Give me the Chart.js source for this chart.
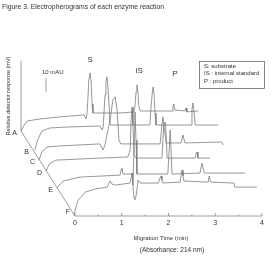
<!DOCTYPE html>
<html><head><meta charset="utf-8">
<script src="https://cdn.jsdelivr.net/npm/chart.js@4.4.1/dist/chart.umd.min.js"></script>
<style>html,body{margin:0;padding:0;background:#fff}#wrap{width:274px;height:261px;position:relative}</style>
</head><body><div id="wrap"><canvas id="c"></canvas></div>
<script>
const traceNames = ['A','B','C','D','E','F'];
// run time (min) and response (mAU)
const timeA = [0,0.06,0.13,0.41,0.83,1.35,1.39,1.41,1.43,1.45,1.48,1.50,1.52,1.54,2.12,2.42,2.44,2.46,2.48,2.50,2.52,2.55,3.23,3.25,3.27,3.29,3.51,3.53,3.55,3.79];
const respA = [0,3.7,7.4,8.9,10.4,11.9,8.9,11.9,23.0,37.8,43.0,36.3,20.0,13.3,13.3,14.1,19.3,28.9,34.1,28.9,18.5,14.8,14.8,17.8,20.0,15.6,14.8,17.0,14.1,14.8];
const timeB = [0.04,0.09,0.19,0.36,0.73,1.43,1.48,1.50,1.52,1.54,1.56,1.58,1.60,1.63,1.65,2.50,2.52,2.55,2.57,2.59,2.61,2.63,3.38,3.40,3.42,3.44,3.47,3.96];
const respB = [0,6.7,14.1,16.3,17.0,17.8,14.8,17.0,28.1,40.7,50.4,54.1,47.4,31.1,18.5,18.5,29.6,42.2,46.7,40.7,27.4,18.5,18.5,29.6,34.8,29.6,18.5,18.5];
const timeC = [0,0.06,0.17,0.45,1.30,1.37,1.41,1.52,1.58,1.63,1.67,1.71,1.75,2.59,2.63,2.65,2.67,2.72,3.04,3.08,3.12,3.91,3.94];
const respC = [0,5.9,9.6,10.4,11.9,7.4,11.1,29.6,44.4,46.7,37.0,14.8,11.9,11.9,25.9,31.9,25.9,12.6,12.6,18.5,12.6,13.3,11.1];
const timeD = [0,0.04,0.09,0.21,1.16,1.75,1.80,1.82,1.84,1.86,1.88,1.93,2.48,2.50,2.52,2.55,2.57,2.59,3.19,3.21,3.23,3.25,3.51];
const respD = [0,3.0,5.9,8.1,9.6,10.4,15.6,37.8,47.4,34.1,11.9,9.6,9.6,23.0,34.1,36.3,26.7,9.6,9.6,12.6,14.1,9.6,9.6];
const timeE = [0,0.04,0.13,0.49,1.35,1.37,1.39,1.41,1.63,1.65,1.67,1.69,1.71,2.37,2.40,2.42,2.44,2.46,3.06,3.10,3.15,4.02];
const respE = [0,1.5,5.2,8.1,9.6,13.3,14.8,10.4,10.4,28.1,56.3,35.6,10.4,10.4,28.1,43.0,28.1,10.4,11.1,18.5,11.1,11.1];
const timeF = [0,0.04,0.09,0.24,0.45,0.71,0.75,0.77,0.81,0.88,1.20,1.22,1.24,1.26,1.28,1.30,1.33,1.37,1.41,1.80,1.84,1.86,1.88,1.90,2.27,2.29,2.31,2.33,2.35,2.87,2.89,2.91,2.93,3.42,3.44,3.91];
const respF = [0,5.9,11.1,17.0,19.3,20.7,23.7,25.2,23.0,22.2,23.7,27.4,31.1,22.2,13.3,11.1,14.8,25.9,23.7,23.7,27.4,28.9,25.9,23.7,24.4,29.6,33.3,28.9,25.2,24.4,28.9,25.9,24.4,23.7,20.7,20.7];
const traceTimes = [timeA,timeB,timeC,timeD,timeE,timeF];
const traceResp = [respA,respB,respC,respD,respE,respF];
// waterfall offsets of each run (min, mAU) along the oblique baseline
const offsetTime = [-1.155,-0.898,-0.770,-0.620,-0.385,-0.02];
const offsetResp = [63.0,48.9,41.5,33.3,20.7,0.7];
const xTicks = [0,1,2,3,4];
const peakLabels = ['S','IS','P'];
const legendLines = ['S: substrate','IS : internal standard','P : product'];
const scaleBarMAU = 10;

const datasets = traceNames.map((n,k)=>({
  label:n,
  data: traceTimes[k].map((t,i)=>({x:t+offsetTime[k], y:traceResp[k][i]+offsetResp[k]})),
  showLine:true, pointRadius:0, borderColor:'#747474', borderWidth:0.75, tension:0, fill:false
}));

const deco = {
  id:'deco',
  afterDraw(chart){
    const ctx = chart.ctx, xs = chart.scales.x, ys = chart.scales.y;
    const X = v=>xs.getPixelForValue(v), Y = v=>ys.getPixelForValue(v);
    const F = s=>s+'px "Liberation Sans", Arial, sans-serif';
    ctx.save();
    ctx.strokeStyle='#888'; ctx.lineWidth=0.8; ctx.fillStyle='#333';
    const y0 = Y(0);
    ctx.beginPath(); ctx.moveTo(X(0),y0); ctx.lineTo(X(4),y0); ctx.stroke();
    ctx.font=F(7); ctx.textAlign='center'; ctx.textBaseline='top';
    xTicks.forEach(t=>{ctx.beginPath();ctx.moveTo(X(t),y0);ctx.lineTo(X(t),y0-3);ctx.stroke();ctx.fillText(String(t),X(t),y0+4);});
    for(let t=0.5;t<4;t+=1){ctx.beginPath();ctx.moveTo(X(t),y0);ctx.lineTo(X(t),y0-1.5);ctx.stroke();}
    ctx.beginPath(); ctx.moveTo(X(offsetTime[0]),Y(offsetResp[0])); ctx.lineTo(X(0),y0); ctx.stroke();
    ctx.beginPath(); ctx.moveTo(X(offsetTime[0]),Y(offsetResp[0])); ctx.lineTo(X(offsetTime[0]),Y(115)); ctx.stroke();
    ctx.font=F(7); ctx.textAlign='right'; ctx.textBaseline='middle';
    traceNames.forEach((n,k)=>{ctx.fillText(n,X(offsetTime[k])-4,Y(offsetResp[k])+(k===5?-3:2));});
    ctx.font=F(8); ctx.textAlign='center'; ctx.textBaseline='middle';
    const pk = [[1.48,43.0,0,-13],[2.48,34.1,2,-14],[3.27,20.0,1,-30]];
    peakLabels.forEach((p,i)=>{const [t,v,dx,dy]=pk[i]; ctx.fillText(p,X(t+offsetTime[0])+dx, Y(v+offsetResp[0])+dy);});
    const bx = X(-0.62), bv = 91.9;
    ctx.beginPath(); ctx.moveTo(bx,Y(bv)); ctx.lineTo(bx,Y(bv+scaleBarMAU)); ctx.stroke();
    ctx.font=F(6); ctx.textAlign='left'; ctx.textBaseline='middle';
    ctx.fillText('10 mAU', bx-4, Y(bv+scaleBarMAU)-6);
    ctx.strokeStyle='#666'; ctx.strokeRect(199.5,61.5,65,27);
    ctx.font=F(6); ctx.textBaseline='middle';
    legendLines.forEach((s,i)=>ctx.fillText(s,204,66+i*7.5));
    ctx.font=F(6.8); ctx.textAlign='left'; ctx.textBaseline='middle';
    ctx.fillText('Figure 3. Electropherograms of each enzyme reaction',2,7);
    ctx.textAlign='center';
    ctx.font=F(6);
    ctx.fillText('Migration Time (min)',161,238);
    ctx.font=F(6.5);
    ctx.fillText('(Absorbance: 214 nm)',172,250);
    ctx.save(); ctx.translate(8,96); ctx.rotate(-Math.PI/2);
    ctx.font=F(5.5);
    ctx.fillText('Relative detector response (mV)',0,0); ctx.restore();
    ctx.restore();
  }
};

new Chart(document.getElementById('c'),{
  type:'scatter',
  data:{datasets},
  options:{
    responsive:true, maintainAspectRatio:false, animation:false,
    layout:{padding:{left:21,right:12,top:55,bottom:45}},
    plugins:{legend:{display:false},tooltip:{enabled:false}},
    scales:{
      x:{type:'linear',display:false,min:-1.155,max:4},
      y:{type:'linear',display:false,min:0,max:119.26}
    }
  },
  plugins:[deco]
});
</script></body></html>
